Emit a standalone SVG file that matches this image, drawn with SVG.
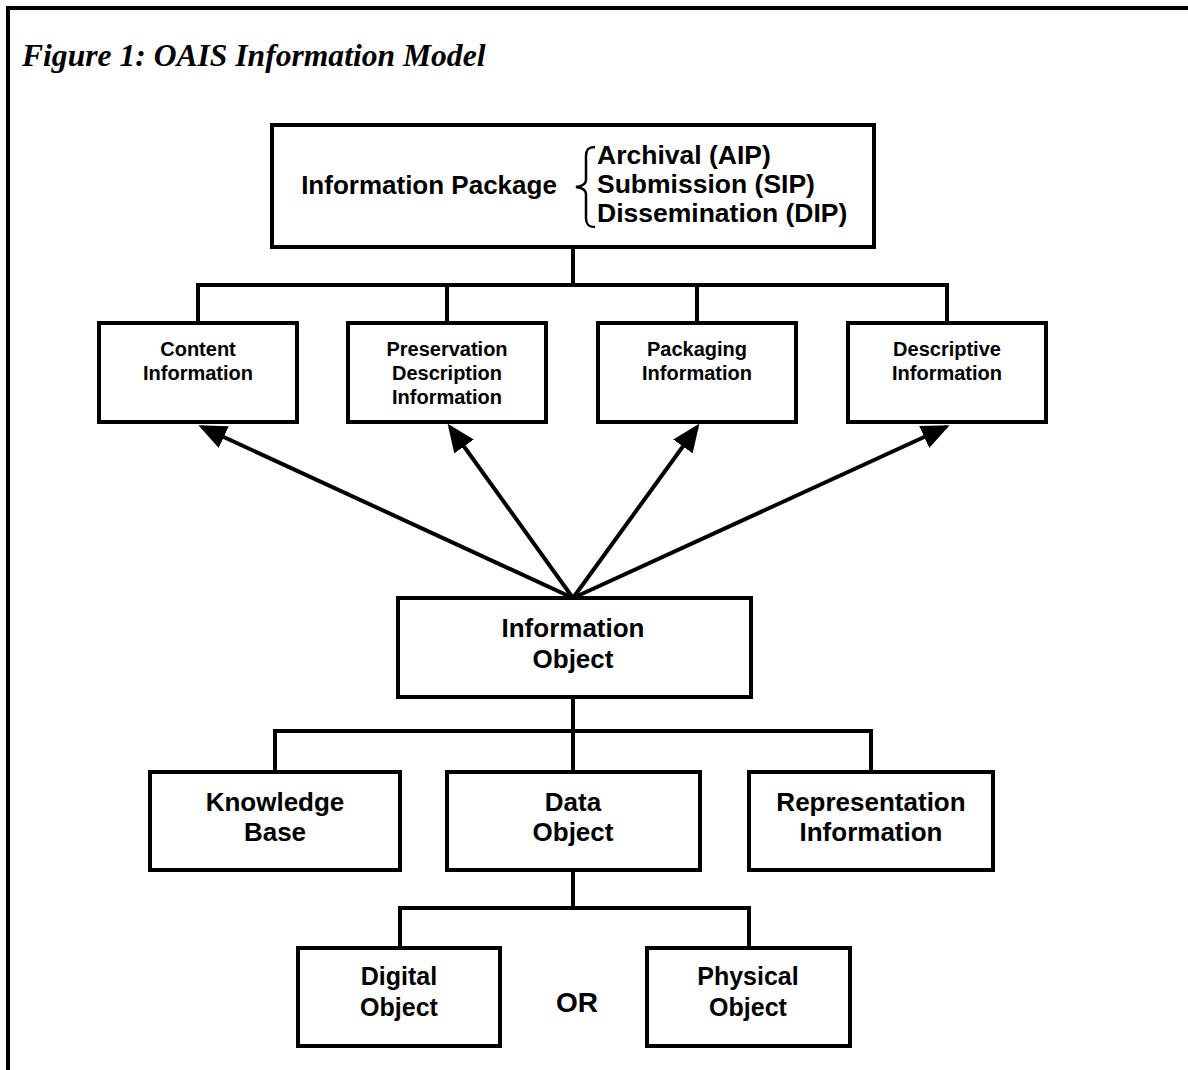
<svg xmlns="http://www.w3.org/2000/svg" width="1188" height="1070" viewBox="0 0 1188 1070">
<style>
.box{fill:#fff;stroke:#000;stroke-width:4}
.ln{fill:none;stroke:#000;stroke-width:4}
.t{font-family:"Liberation Sans",Arial,sans-serif;font-weight:bold;fill:#000;text-anchor:middle}
.s20{font-size:20px}.s25{font-size:25px}.s26{font-size:26px}
.l{text-anchor:start}
</style>
<defs>
<marker id="ah" markerUnits="userSpaceOnUse" markerWidth="30" markerHeight="26" refX="24" refY="12" orient="auto" viewBox="0 0 30 26">
<path d="M0,0 L28,12 L0,24 z" fill="#000"/>
</marker>
</defs>
<rect width="1188" height="1070" fill="#fff"/>
<path class="ln" d="M8,1070 V8 H1188"/>
<text x="22" y="66" font-family="Liberation Serif,Times New Roman,serif" font-style="italic" font-weight="bold" font-size="31.6">Figure 1: OAIS Information Model</text>

<g id="connectors">
<path class="ln" d="M573,247 V285 M198,323 V285 H947 V323 M447,285 V323 M697,285 V323"/>
<g marker-end="url(#ah)" class="ln">
<line x1="573" y1="598" x2="202" y2="427"/>
<line x1="573" y1="598" x2="450" y2="427"/>
<line x1="573" y1="598" x2="697" y2="427"/>
<line x1="573" y1="598" x2="946" y2="427"/>
</g>
<path class="ln" d="M573,697 V731 M275,772 V731 H871 V772 M573,731 V772"/>
<path class="ln" d="M573,870 V908 M400,948 V908 H749 V948"/>
</g>

<g id="information-package">
<rect class="box" x="272" y="125" width="602" height="122"/>
<text class="t s26" x="429" y="194">Information Package</text>
<path d="M595,147 C588,147 586,150 586,156 V180 C586,184 583,186 576,187 C583,188 586,190 586,194 V218 C586,224 588,227 595,227" fill="none" stroke="#000" stroke-width="2.5"/>
<text class="t l" font-size="26.5" x="597" y="164">Archival (AIP)</text>
<text class="t l" font-size="26.5" x="597" y="193">Submission (SIP)</text>
<text class="t l" font-size="26.5" x="597" y="222">Dissemination (DIP)</text>
</g>

<g id="content-information">
<rect class="box" x="99" y="323" width="198" height="99"/>
<text class="t s20" x="198" y="356">Content</text>
<text class="t s20" x="198" y="380">Information</text>
</g>
<g id="preservation-description-information">
<rect class="box" x="348" y="323" width="198" height="99"/>
<text class="t s20" x="447" y="356">Preservation</text>
<text class="t s20" x="447" y="380">Description</text>
<text class="t s20" x="447" y="404">Information</text>
</g>
<g id="packaging-information">
<rect class="box" x="598" y="323" width="198" height="99"/>
<text class="t s20" x="697" y="356">Packaging</text>
<text class="t s20" x="697" y="380">Information</text>
</g>
<g id="descriptive-information">
<rect class="box" x="848" y="323" width="198" height="99"/>
<text class="t s20" x="947" y="356">Descriptive</text>
<text class="t s20" x="947" y="380">Information</text>
</g>

<g id="information-object">
<rect class="box" x="398" y="598" width="353" height="99"/>
<text class="t s26" x="573" y="637">Information</text>
<text class="t s26" x="573" y="668">Object</text>
</g>

<g id="knowledge-base">
<rect class="box" x="150" y="772" width="250" height="98"/>
<text class="t s26" x="275" y="811">Knowledge</text>
<text class="t s26" x="275" y="841">Base</text>
</g>
<g id="data-object">
<rect class="box" x="447" y="772" width="253" height="98"/>
<text class="t s26" x="573" y="811">Data</text>
<text class="t s26" x="573" y="841">Object</text>
</g>
<g id="representation-information">
<rect class="box" x="749" y="772" width="244" height="98"/>
<text class="t s26" x="871" y="811">Representation</text>
<text class="t s26" x="871" y="841">Information</text>
</g>

<g id="digital-object">
<rect class="box" x="298" y="948" width="202" height="98"/>
<text class="t s25" x="399" y="985">Digital</text>
<text class="t s25" x="399" y="1016">Object</text>
</g>
<text id="or" class="t" font-size="28" x="577" y="1012">OR</text>
<g id="physical-object">
<rect class="box" x="647" y="948" width="203" height="98"/>
<text class="t s25" x="748" y="985">Physical</text>
<text class="t s25" x="748" y="1016">Object</text>
</g>
</svg>
